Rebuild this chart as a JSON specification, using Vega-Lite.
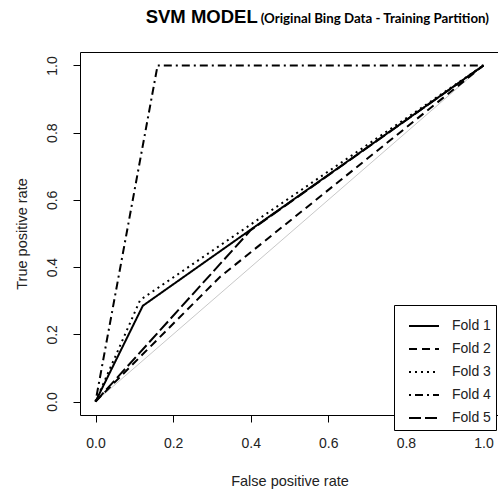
{
  "$schema": "https://vega.github.io/schema/vega-lite/v6.json",
  "width": 419,
  "height": 363,
  "autosize": {"type": "none"},
  "padding": {"left": 80, "top": 52, "right": 0, "bottom": 79},
  "background": "white",
  "title": {
    "text": "SVM MODEL\u00a0\u00a0\u00a0\u00a0\u00a0\u00a0\u00a0\u00a0\u00a0\u00a0\u00a0\u00a0\u00a0\u00a0\u00a0\u00a0\u00a0\u00a0\u00a0\u00a0\u00a0\u00a0\u00a0\u00a0\u00a0\u00a0\u00a0\u00a0\u00a0\u00a0\u00a0\u00a0\u00a0\u00a0\u00a0\u00a0\u00a0\u00a0\u00a0\u00a0\u00a0\u00a0\u00a0\u00a0\u00a0\u200d",
    "subtitle": "(Original Bing Data - Training Partition)",
    "anchor": "end",
    "frame": "group",
    "dx": -10,
    "font": "Liberation Sans",
    "fontSize": 18.5,
    "fontWeight": "bold",
    "color": "black",
    "subtitleFont": "Lato",
    "subtitleFontSize": 13.3,
    "subtitleFontWeight": "bold",
    "subtitleColor": "black",
    "subtitlePadding": -14,
    "offset": 26
  },
  "config": {
    "view": {"stroke": "black", "strokeWidth": 1},
    "axis": {
      "grid": false,
      "domain": false,
      "tickSize": 7,
      "tickColor": "black",
      "labelFont": "Liberation Sans",
      "labelFontSize": 14,
      "labelColor": "#222",
      "labelFlush": false,
      "labelOverlap": false,
      "titleFont": "Liberation Sans",
      "titleFontSize": 14.5,
      "titleFontWeight": "normal",
      "titleColor": "#222"
    }
  },
  "encoding": {
    "x": {
      "field": "fpr",
      "type": "quantitative",
      "scale": {"domain": [-0.04, 1.04], "nice": false, "zero": false},
      "axis": {
        "title": "False positive rate",
        "values": [0, 0.2, 0.4, 0.6, 0.8, 1],
        "format": ".1f",
        "labelPadding": 14,
        "titlePadding": 24
      }
    },
    "y": {
      "field": "tpr",
      "type": "quantitative",
      "scale": {"domain": [-0.04, 1.04], "nice": false, "zero": false},
      "axis": {
        "title": "True positive rate",
        "values": [0, 0.2, 0.4, 0.6, 0.8, 1],
        "format": ".1f",
        "labelAngle": -90,
        "labelAlign": "center",
        "labelBaseline": "bottom",
        "labelPadding": 14,
        "titlePadding": 16
      }
    }
  },
  "layer": [
    {
      "data": {"values": [{"fpr": 0, "tpr": 0}, {"fpr": 1, "tpr": 1}]},
      "mark": {"type": "line", "color": "#c8c8c8", "strokeWidth": 1}
    },
    {
      "data": {
        "values": [
          {"fold": "Fold 1", "fpr": 0, "tpr": 0},
          {"fold": "Fold 1", "fpr": 0.122, "tpr": 0.285},
          {"fold": "Fold 1", "fpr": 1, "tpr": 1},
          {"fold": "Fold 2", "fpr": 0, "tpr": 0},
          {"fold": "Fold 2", "fpr": 0.32, "tpr": 0.37},
          {"fold": "Fold 2", "fpr": 1, "tpr": 1},
          {"fold": "Fold 3", "fpr": 0, "tpr": 0},
          {"fold": "Fold 3", "fpr": 0.115, "tpr": 0.302},
          {"fold": "Fold 3", "fpr": 1, "tpr": 1},
          {"fold": "Fold 4", "fpr": 0, "tpr": 0},
          {"fold": "Fold 4", "fpr": 0.16, "tpr": 1.0},
          {"fold": "Fold 4", "fpr": 1, "tpr": 1},
          {"fold": "Fold 5", "fpr": 0, "tpr": 0},
          {"fold": "Fold 5", "fpr": 0.4, "tpr": 0.51},
          {"fold": "Fold 5", "fpr": 1, "tpr": 1}
        ]
      },
      "mark": {"type": "line", "color": "black", "strokeWidth": 2},
      "encoding": {
        "strokeDash": {
          "field": "fold",
          "type": "nominal",
          "scale": {
            "domain": ["Fold 1", "Fold 2", "Fold 3", "Fold 4", "Fold 5"],
            "range": [[1, 0], [8, 5], [2, 4], [2, 4, 8, 4], [12, 4]]
          },
          "legend": {
            "title": null,
            "orient": "none",
            "legendX": 314,
            "legendY": 253,
            "symbolType": "stroke",
            "symbolSize": 900,
            "symbolStrokeWidth": 2,
            "symbolStrokeColor": "black",
            "symbolOffset": 9,
            "labelFont": "Liberation Sans",
            "labelFontSize": 14,
            "labelColor": "#222",
            "labelOffset": 12,
            "strokeColor": "black",
            "fillColor": "white",
            "padding": 5,
            "rowPadding": -12
          }
        }
      }
    }
  ]
}
